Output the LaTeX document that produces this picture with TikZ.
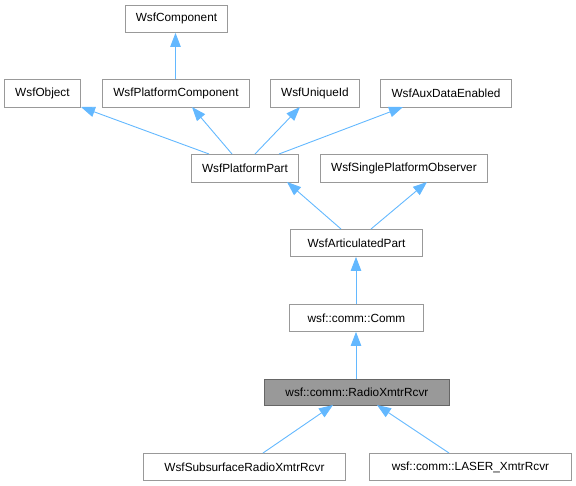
\documentclass[tikz,border=0pt]{standalone}
\usepackage{fontspec}
\setmainfont{Liberation Sans}
\usetikzlibrary{arrows.meta}
\definecolor{edgeblue}{HTML}{63B8FF}
\definecolor{boxline}{HTML}{999999}
\definecolor{hlfill}{HTML}{999999}
\definecolor{hlline}{HTML}{666666}
\tikzset{
  cls/.style={draw=boxline, fill=white, line width=0.9pt, inner sep=0pt, anchor=north west, font=\fontsize{11.8}{13}\selectfont, text=black},
  hl/.style={cls, fill=hlfill, draw=hlline},
  inh/.style={draw=edgeblue, line width=0.9pt, -{Triangle[length=14pt,width=10.5pt]}}
}
\begin{document}
\begin{tikzpicture}[x=1pt,y=-1pt]
\useasboundingbox (0,0) rectangle (576,485);
\def\mk#1#2#3#4#5#6#7{\node[#2, minimum width=#5-#3, minimum height=#6-#4] (#1) at (#3,#4) {#7};}
\mk{comp}{cls}{125}{5}{227}{32}{WsfComponent}
\mk{obj}{cls}{4}{79}{80}{107}{WsfObject}
\mk{pcomp}{cls}{102}{79}{249}{107}{WsfPlatformComponent}
\mk{uid}{cls}{270}{79}{359}{107}{WsfUniqueId}
\mk{aux}{cls}{380}{79}{511}{107}{WsfAuxDataEnabled}
\mk{ppart}{cls}{191}{154}{298}{182}{WsfPlatformPart}
\mk{spo}{cls}{320}{154}{487}{182}{WsfSinglePlatformObserver}
\mk{art}{cls}{290}{229}{422}{256}{WsfArticulatedPart}
\mk{comm}{cls}{289}{304}{423}{331}{wsf::comm::Comm}
\mk{radio}{hl}{264}{379}{449}{405}{wsf::comm::RadioXmtrRcvr}
\mk{sub}{cls}{143}{453}{345}{480}{WsfSubsurfaceRadioXmtrRcvr}
\mk{laser}{cls}{369}{453}{571}{480}{wsf::comm::LASER\_XmtrRcvr}
\draw[inh] (pcomp.north -| 175.5,0) -- (comp.south -| 175.5,0);
\draw[inh] (ppart.north -| 209,0) -- (81,107);
\draw[inh] (ppart.north -| 232,0) -- (192,107);
\draw[inh] (ppart.north -| 255,0) -- (300,107);
\draw[inh] (ppart.north -| 279,0) -- (403,107);
\draw[inh] (art.north -| 341,0) -- (287,182);
\draw[inh] (art.north -| 371,0) -- (427,182);
\draw[inh] (comm.north -| 356,0) -- (art.south -| 356,0);
\draw[inh] (radio.north -| 356,0) -- (comm.south -| 356,0);
\draw[inh] (sub.north -| 263,0) -- (333,405);
\draw[inh] (laser.north -| 449,0) -- (377,405);
\end{tikzpicture}
\end{document}
